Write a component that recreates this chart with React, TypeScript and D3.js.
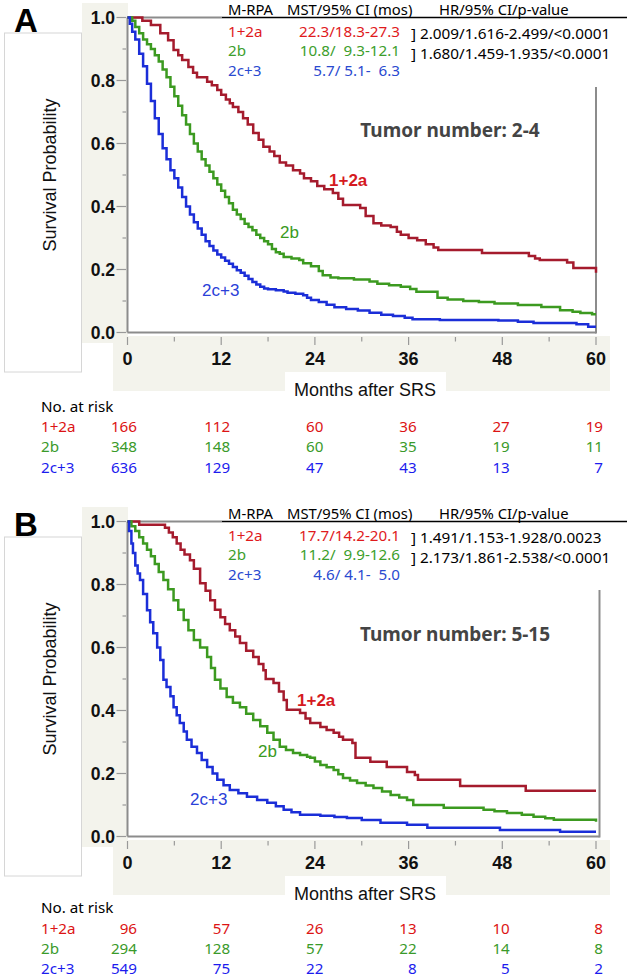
import React from 'react';
import * as d3 from 'd3';

// ---------- data ----------
const timeTicks = [0, 12, 24, 36, 48, 60];
const minorTimeTicks = [6, 18, 30, 42, 54];
const survTicks = [0, 0.2, 0.4, 0.6, 0.8, 1.0];
const minorSurvTicks = [0.1, 0.3, 0.5, 0.7, 0.9];
const groups = ['1+2a', '2b', '2c+3'];
const tableHeader = ['M-RPA', 'MST/95% CI (mos)', 'HR/95% CI/p-value'];

type KM = [number, number][];

const survA_1_2a: KM = [
  [0, 1], [1.9, 0.99], [3, 0.976], [4.2, 0.95], [5.2, 0.928], [5.9, 0.897], [6.5, 0.88], [7, 0.865],
  [7.8, 0.843], [8.4, 0.825], [8.9, 0.81], [10.2, 0.796], [10.8, 0.785], [11.5, 0.77], [12, 0.755],
  [12.6, 0.74], [13.1, 0.728], [13.5, 0.716], [14.2, 0.7], [14.8, 0.68], [15.4, 0.66], [16.1, 0.633],
  [16.8, 0.612], [17.4, 0.59], [18.2, 0.575], [18.8, 0.56], [19.5, 0.54], [20.3, 0.53], [21.2, 0.515],
  [22.1, 0.505], [22.6, 0.49], [23.5, 0.48], [24.3, 0.465], [25.2, 0.455], [26.3, 0.443], [27, 0.425],
  [27.6, 0.405], [29.8, 0.395], [30.5, 0.37], [31.5, 0.347], [32.5, 0.34], [33.7, 0.335], [34.5, 0.32],
  [35, 0.31], [36, 0.3], [37.1, 0.293], [38.2, 0.28], [39.2, 0.27], [39.8, 0.262], [45.4, 0.252],
  [51.4, 0.243], [52.2, 0.235], [52.8, 0.23], [56.3, 0.222], [57.1, 0.205], [60, 0.19],
];
const survA_2b: KM = [
  [0, 1], [0.6, 0.99], [1, 0.97], [1.5, 0.95], [2, 0.93], [2.5, 0.915], [3, 0.9], [3.5, 0.88], [4, 0.86],
  [4.5, 0.835], [5, 0.81], [5.5, 0.78], [6, 0.75], [6.5, 0.72], [7, 0.69], [7.5, 0.66], [8, 0.63],
  [8.5, 0.6], [9, 0.575], [9.5, 0.55], [10, 0.53], [10.5, 0.51], [11, 0.49], [11.5, 0.47], [12, 0.45],
  [12.5, 0.43], [13, 0.41], [13.5, 0.39], [14, 0.375], [14.5, 0.36], [15, 0.345], [15.5, 0.335],
  [16, 0.325], [16.5, 0.31], [17, 0.3], [17.5, 0.29], [18, 0.28], [18.5, 0.265], [19, 0.255],
  [19.5, 0.25], [20, 0.24], [21, 0.235], [22, 0.23], [22.5, 0.22], [23.5, 0.21], [24.5, 0.195],
  [25, 0.182], [26, 0.175], [27, 0.172], [29, 0.168], [31, 0.162], [32, 0.155], [33.5, 0.15],
  [35, 0.145], [36.2, 0.138], [37, 0.129], [39.7, 0.11], [41, 0.105], [43, 0.1], [45, 0.097],
  [47, 0.092], [50, 0.087], [53, 0.081], [55.4, 0.071], [57, 0.066], [58, 0.062], [59.5, 0.058], [60, 0.058],
];
const survA_2c3: KM = [
  [0, 1], [0.3, 0.98], [0.6, 0.955], [1, 0.93], [1.5, 0.885], [2, 0.845], [2.5, 0.79], [3, 0.735],
  [3.5, 0.68], [4, 0.63], [4.5, 0.585], [5, 0.55], [5.5, 0.515], [6, 0.49], [6.5, 0.46], [7, 0.43],
  [7.5, 0.4], [8, 0.375], [8.5, 0.35], [9, 0.33], [9.5, 0.31], [10, 0.29], [10.5, 0.275], [11, 0.26],
  [11.5, 0.248], [12, 0.238], [12.5, 0.228], [13, 0.218], [13.5, 0.208], [14, 0.198], [14.5, 0.19],
  [15, 0.18], [15.5, 0.17], [16, 0.16], [16.5, 0.152], [17, 0.145], [17.5, 0.14], [18, 0.137],
  [19, 0.134], [20, 0.13], [20.5, 0.126], [21.5, 0.123], [22.5, 0.118], [23, 0.11], [23.5, 0.103],
  [24.5, 0.097], [25.5, 0.088], [26.5, 0.08], [28, 0.075], [29.5, 0.07], [31, 0.063], [32.5, 0.056],
  [34, 0.052], [35.5, 0.047], [36.5, 0.042], [40, 0.04], [47.5, 0.038], [50, 0.034], [52, 0.03],
  [57.5, 0.026], [59, 0.018], [60, 0.018],
];

const survB_1_2a: KM = [
  [0, 1], [1.5, 0.99], [4.8, 0.98], [5.3, 0.965], [5.8, 0.95], [6.3, 0.93], [6.8, 0.91], [7.3, 0.895],
  [8, 0.877], [8.5, 0.85], [9.3, 0.804], [10, 0.78], [10.6, 0.75], [11.2, 0.72], [11.9, 0.696],
  [12.5, 0.675], [13.1, 0.655], [13.8, 0.635], [14.4, 0.614], [15.2, 0.59], [16.1, 0.57], [16.8, 0.548],
  [17.4, 0.528], [17.7, 0.5], [18.7, 0.487], [19.4, 0.46], [20, 0.433], [20.4, 0.402], [22.1, 0.392],
  [22.8, 0.375], [23.4, 0.36], [24.7, 0.348], [25.5, 0.338], [26.4, 0.329], [27.1, 0.317], [27.6, 0.307],
  [28.8, 0.297], [29.2, 0.25], [31.1, 0.237], [33.2, 0.221], [35.8, 0.205], [36.8, 0.195], [37.2, 0.18],
  [42.6, 0.16], [51, 0.145], [60, 0.145],
];
const survB_2b: KM = [
  [0, 1], [0.5, 0.985], [1, 0.97], [1.5, 0.95], [2, 0.93], [2.5, 0.91], [3, 0.89], [3.5, 0.865],
  [4, 0.84], [4.6, 0.814], [5.2, 0.785], [5.9, 0.75], [6.5, 0.72], [7.2, 0.687], [7.8, 0.655],
  [8.5, 0.624], [9.3, 0.6], [10.2, 0.57], [10.7, 0.535], [11.2, 0.498], [11.9, 0.47], [12.7, 0.443],
  [13.5, 0.425], [14.4, 0.41], [15.2, 0.39], [16.1, 0.37], [17, 0.35], [17.9, 0.329], [18.7, 0.307],
  [19.5, 0.285], [20.3, 0.275], [21.2, 0.265], [22.1, 0.259], [23, 0.253], [23.4, 0.25], [24, 0.238],
  [24.7, 0.227], [25.5, 0.22], [26.4, 0.211], [27, 0.198], [27.6, 0.186], [28.5, 0.178], [29.4, 0.17],
  [30.5, 0.162], [31.5, 0.154], [32.6, 0.143], [33.7, 0.132], [34.8, 0.124], [35.8, 0.116], [36.6, 0.1],
  [40.5, 0.091], [45.6, 0.085], [47, 0.08], [48.6, 0.075], [50.5, 0.069], [52, 0.063], [53.5, 0.058],
  [54.6, 0.053], [60, 0.047],
];
const survB_2c3: KM = [
  [0, 1], [0.2, 0.97], [0.5, 0.93], [0.7, 0.9], [1, 0.86], [1.3, 0.835], [1.6, 0.814], [2, 0.77],
  [2.5, 0.718], [2.9, 0.68], [3.3, 0.645], [3.8, 0.6], [4.2, 0.56], [4.6, 0.498], [5, 0.475],
  [5.5, 0.445], [5.9, 0.41], [6.3, 0.385], [6.7, 0.36], [7.2, 0.333], [7.6, 0.307], [8.2, 0.285],
  [8.9, 0.265], [9.5, 0.243], [10.2, 0.221], [10.9, 0.2], [11.5, 0.18], [12.3, 0.163], [13.1, 0.148],
  [14.2, 0.137], [15.3, 0.126], [16.6, 0.116], [17.9, 0.107], [19, 0.096], [20, 0.085], [21, 0.077],
  [22.1, 0.069], [24.7, 0.066], [26.5, 0.062], [28.1, 0.059], [30, 0.052], [32.4, 0.044], [35.8, 0.037],
  [38.4, 0.028], [47.7, 0.021], [55.4, 0.015], [60, 0.015],
];

const mstA = ['22.3/18.3-27.3', '10.8/  9.3-12.1', '5.7/ 5.1-  6.3'];
const hrA = ['] 2.009/1.616-2.499/<0.0001', '] 1.680/1.459-1.935/<0.0001'];
const mstB = ['17.7/14.2-20.1', '11.2/  9.9-12.6', '4.6/ 4.1-  5.0'];
const hrB = ['] 1.491/1.153-1.928/0.0023', '] 2.173/1.861-2.538/<0.0001'];

const riskA_1_2a = [166, 112, 60, 36, 27, 19];
const riskA_2b = [348, 148, 60, 35, 19, 11];
const riskA_2c3 = [636, 129, 47, 43, 13, 7];
const riskB_1_2a = [96, 57, 26, 13, 10, 8];
const riskB_2b = [294, 128, 57, 22, 14, 8];
const riskB_2c3 = [549, 75, 22, 8, 5, 2];

// ---------- styles ----------
const curveColors = ['#a51b2d', '#3c9a20', '#1b2ed8'];
const textColors = ['#e01a1c', '#3c9e2c', '#2a4ad0'];
const riskColors = ['#dc1414', '#3a9a2a', '#1c1cee'];
const labelColors = ['#d51a1f', '#3a9a1e', '#2a40d8'];
const AX = '#8c8c8c';
const BEIGE = '#f3f3ec';
const ARIAL = 'Liberation Sans, Arial, sans-serif';
const NOTO = 'Noto Sans, Open Sans, sans-serif';

type PanelProps = {
  dy: number;
  riskDy: number;
  letter: string;
  tumor: string;
  tumorX: number;
  curves: KM[];
  mst: string[];
  hr: string[];
  risk: number[][];
  rightX: number;
  borderTop: number;
  labelPos: [number, number, boolean][];
};

function Panel(p: PanelProps) {
  const { dy, riskDy } = p;
  const x = d3.scaleLinear().domain([0, 60]).range([127.5, 596]);
  const y = d3.scaleLinear().domain([0, 1]).range([332.5 + dy, 17.5 + dy]);
  const riskX = d3.scaleLinear().domain([0, 60]).range([137, 603]);
  const line = d3
    .line<[number, number]>()
    .x((d) => x(d[0]))
    .y((d) => y(d[1]))
    .curve(d3.curveStepAfter);

  return (
    <g>
      {/* backgrounds */}
      <rect x={82} y={3 + dy} width={46} height={340} fill={BEIGE} />
      <rect x={113} y={336 + dy} width={497} height={55} fill={BEIGE} />
      <rect x={285} y={372 + dy} width={161} height={28} fill="#fff" />
      <rect x={4.5} y={33 + dy} width={77} height={339} fill="#fff" stroke="#d6d6d6" strokeWidth={1} />

      {/* panel letter */}
      <text x={14} y={32 + dy} fontFamily={ARIAL} fontWeight="bold" fontSize={33} fill="#000">
        {p.letter}
      </text>

      {/* axes */}
      <line x1={127.5} x2={127.5} y1={y(1)} y2={y(0)} stroke={AX} strokeWidth={2} />
      <line x1={127.5} x2={p.rightX} y1={y(0)} y2={y(0)} stroke={AX} strokeWidth={2} />
      <line x1={p.rightX} x2={p.rightX} y1={p.borderTop + dy} y2={y(0) + 1} stroke={AX} strokeWidth={2} />
      <line x1={127.5} x2={222} y1={y(1)} y2={y(1)} stroke={AX} strokeWidth={2} />

      {survTicks.map((v) => (
        <g key={'ys' + v}>
          <line x1={116.5} x2={126} y1={y(v)} y2={y(v)} stroke="#999" strokeWidth={1.2} />
          <text x={115} y={y(v) + 6.2} textAnchor="end" fontFamily={ARIAL} fontWeight="bold" fontSize={17.5} fill="#111">
            {v.toFixed(1)}
          </text>
        </g>
      ))}
      {minorSurvTicks.map((v) => (
        <line key={'ym' + v} x1={122.5} x2={126} y1={y(v)} y2={y(v)} stroke="#999" strokeWidth={1.2} />
      ))}
      {timeTicks.map((t) => (
        <g key={'xt' + t}>
          <line x1={x(t)} x2={x(t)} y1={337 + dy} y2={345 + dy} stroke="#999" strokeWidth={1.2} />
          <text x={x(t)} y={364.5 + dy} textAnchor="middle" fontFamily={ARIAL} fontWeight="bold" fontSize={18} fill="#111">
            {t}
          </text>
        </g>
      ))}
      {minorTimeTicks.map((t) => (
        <line key={'xm' + t} x1={x(t)} x2={x(t)} y1={337 + dy} y2={341.5 + dy} stroke="#999" strokeWidth={1.2} />
      ))}

      <text x={365} y={396 + dy} textAnchor="middle" fontFamily={ARIAL} fontSize={18} fill="#111">
        Months after SRS
      </text>
      <text
        transform={`translate(56,${(y(0) + y(1)) / 2}) rotate(-90)`}
        textAnchor="middle"
        fontFamily={ARIAL}
        fontSize={18}
        fill="#111"
      >
        Survival Probability
      </text>

      {/* curves */}
      {p.curves.map((c, i) => (
        <path key={'c' + i} d={line(c) || ''} fill="none" stroke={curveColors[i]} strokeWidth={2.5} strokeLinejoin="miter" />
      ))}

      {/* curve labels */}
      {groups.map((g, i) => (
        <text
          key={'lab' + g}
          x={p.labelPos[i][0]}
          y={p.labelPos[i][1] + dy}
          fontFamily={ARIAL}
          fontWeight={p.labelPos[i][2] ? 'bold' : 'normal'}
          fontSize={17}
          fill={labelColors[i]}
        >
          {g}
        </text>
      ))}

      <text x={p.tumorX} y={136.5 + dy} textAnchor="middle" fontFamily={NOTO} fontWeight="bold" fontSize={19} fill="#444">
        {p.tumor}
      </text>

      {/* table */}
      <line x1={222} x2={627} y1={17.5 + dy} y2={17.5 + dy} stroke="#000" strokeWidth={1.6} />
      <text x={228} y={14.5 + dy} fontFamily={NOTO} fontSize={14.8} fill="#000">{tableHeader[0]}</text>
      <text x={287} y={14.5 + dy} fontFamily={NOTO} fontSize={14.8} fill="#000">{tableHeader[1]}</text>
      <text x={439} y={14.5 + dy} fontFamily={NOTO} fontSize={14.8} fill="#000">{tableHeader[2]}</text>
      {groups.map((g, i) => (
        <g key={'tr' + g}>
          <text x={228} y={37 + i * 19.3 + dy} fontFamily={NOTO} fontSize={15.2} fill={textColors[i]}>
            {g}
          </text>
          <text
            x={400}
            y={37 + i * 19.3 + dy}
            textAnchor="end"
            fontFamily={NOTO}
            fontSize={15.2}
            fill={textColors[i]}
            style={{ whiteSpace: 'pre' }}
          >
            {p.mst[i]}
          </text>
        </g>
      ))}
      {p.hr.map((h, i) => (
        <text key={'hr' + i} x={411} y={39 + i * 20 + dy} fontFamily={NOTO} fontSize={15.3} fill="#000">
          {h}
        </text>
      ))}

      {/* risk table */}
      <text x={41} y={411.5 + riskDy} fontFamily={NOTO} fontSize={15.2} fill="#000">
        No. at risk
      </text>
      {groups.map((g, i) => (
        <g key={'rk' + g}>
          <text x={41} y={432 + i * 20.4 + riskDy} fontFamily={NOTO} fontSize={15.2} fill={riskColors[i]}>
            {g}
          </text>
          {p.risk[i].map((n, j) => (
            <text
              key={j}
              x={riskX(timeTicks[j])}
              y={432 + i * 20.4 + riskDy}
              textAnchor="end"
              fontFamily={NOTO}
              fontSize={15.2}
              fill={riskColors[i]}
            >
              {n}
            </text>
          ))}
        </g>
      ))}
    </g>
  );
}

export default function App() {
  return (
    <svg
      width={629}
      height={980}
      viewBox="0 0 629 980"
      style={{ position: 'absolute', left: 0, top: 0, background: '#fff' }}
    >
      <rect x={0} y={0} width={629} height={980} fill="#fff" />
      <Panel
        dy={0}
        riskDy={0}
        letter="A"
        tumor="Tumor number: 2-4"
        tumorX={450}
        curves={[survA_1_2a, survA_2b, survA_2c3]}
        mst={mstA}
        hr={hrA}
        risk={[riskA_1_2a, riskA_2b, riskA_2c3]}
        rightX={596}
        borderTop={87}
        labelPos={[[329, 186, true], [280, 238, false], [202, 296, false]]}
      />
      <Panel
        dy={504}
        riskDy={501.5}
        letter="B"
        tumor="Tumor number: 5-15"
        tumorX={455}
        curves={[survB_1_2a, survB_2b, survB_2c3]}
        mst={mstB}
        hr={hrB}
        risk={[riskB_1_2a, riskB_2b, riskB_2c3]}
        rightX={599.5}
        borderTop={86}
        labelPos={[[297, 202, true], [258, 253, false], [190, 301, false]]}
      />
    </svg>
  );
}
